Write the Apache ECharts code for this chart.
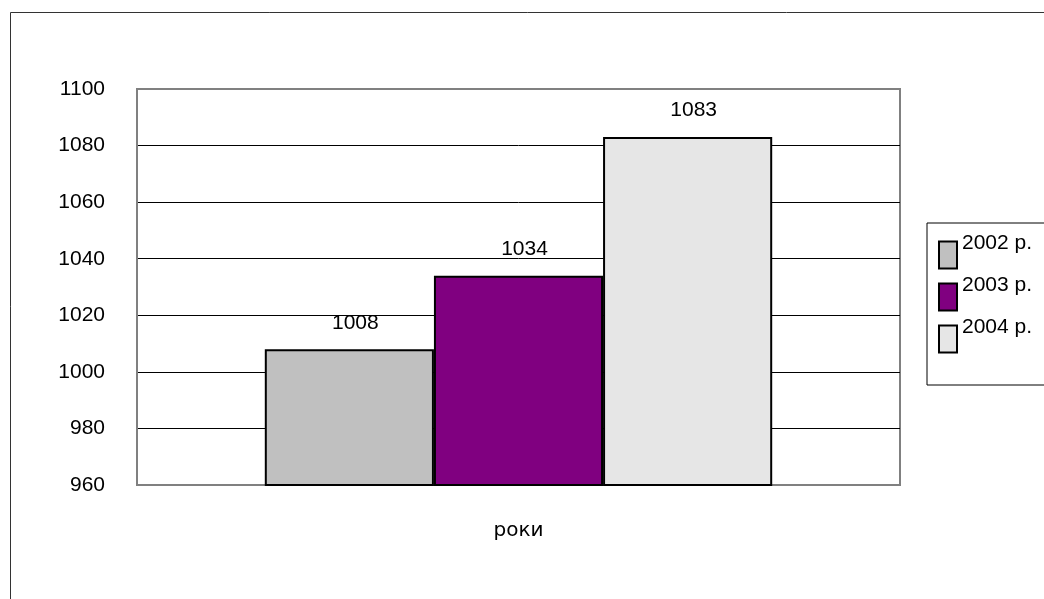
<!DOCTYPE html>
<html>
<head>
<meta charset="utf-8">
<script src="https://cdn.jsdelivr.net/npm/echarts@6/dist/echarts.min.js"></script>
<style>
  html, body { margin: 0; padding: 0; background: #fff; }
  #chart { width: 1044px; height: 599px; }
</style>
</head>
<body>
<div id="chart"></div>
<script>
// Chart data
const categories = ['роки'];
const years = ['2002 р.', '2003 р.', '2004 р.'];
const values = [1008, 1034, 1083];
const colors = ['#C0C0C0', '#800080', '#E6E6E6'];
const yMin = 960, yMax = 1100, yStep = 20;

const chart = echarts.init(document.getElementById('chart'), null, { renderer: 'canvas' });

const series = years.map((name, i) => ({
  name: name,
  type: 'bar',
  data: [values[i]],
  barGap: '0%',
  barCategoryGap: '33.5%',
  itemStyle: { color: colors[i], borderColor: '#000', borderWidth: 2 },
  label: {
    show: true,
    position: 'top',
    distance: 16,
    offset: [6, 0],
    color: '#000',
    fontFamily: 'Liberation Sans, Arial, sans-serif',
    fontSize: 21
  },
  z: 3
}));

chart.setOption({
  animation: false,
  backgroundColor: '#fff',
  graphic: [{
    type: 'rect',
    shape: { x: 10.5, y: 12.5, width: 1100, height: 700 },
    style: { fill: 'none', stroke: '#333', lineWidth: 1 },
    silent: true,
    z: -10
  }],
  grid: {
    left: 137, right: 144, top: 89, bottom: 114,
    show: true,
    borderColor: '#808080',
    borderWidth: 2,
    backgroundColor: 'transparent'
  },
  legend: {
    orient: 'vertical',
    left: 927,
    top: 223,
    data: years,
    itemWidth: 18,
    itemHeight: 27,
    itemGap: -6,
    itemSpacing: 9,
    backgroundColor: '#fff',
    borderColor: '#000',
    borderWidth: 1,
    borderRadius: 0,
    padding: [8, 40, 22, 11],
    icon: 'rect',
    itemStyle: { borderColor: '#000', borderWidth: 2 },
    // second empty line lifts the name toward the top of the swatch
    formatter: name => name + '\n ',
    textStyle: {
      color: '#000',
      fontFamily: 'Liberation Sans, Arial, sans-serif',
      fontSize: 21,
      lineHeight: 24
    }
  },
  xAxis: {
    type: 'category',
    data: categories,
    axisLine: { show: true, lineStyle: { color: '#808080', width: 2 } },
    axisTick: { show: false },
    axisLabel: {
      margin: 36,
      color: '#000',
      fontFamily: 'DejaVu Sans, sans-serif',
      fontSize: 20
    },
    splitLine: { show: false }
  },
  yAxis: {
    type: 'value',
    min: yMin,
    max: yMax,
    interval: yStep,
    axisLine: { show: true, lineStyle: { color: '#808080', width: 2 } },
    axisTick: { show: false },
    axisLabel: {
      margin: 32,
      color: '#000',
      formatter: v => String(v),
      fontFamily: 'Liberation Sans, Arial, sans-serif',
      fontSize: 21
    },
    splitLine: {
      show: true,
      showMinLine: false,
      showMaxLine: false,
      lineStyle: { color: '#000', width: 1 }
    }
  },
  series: series
});
</script>
</body>
</html>
